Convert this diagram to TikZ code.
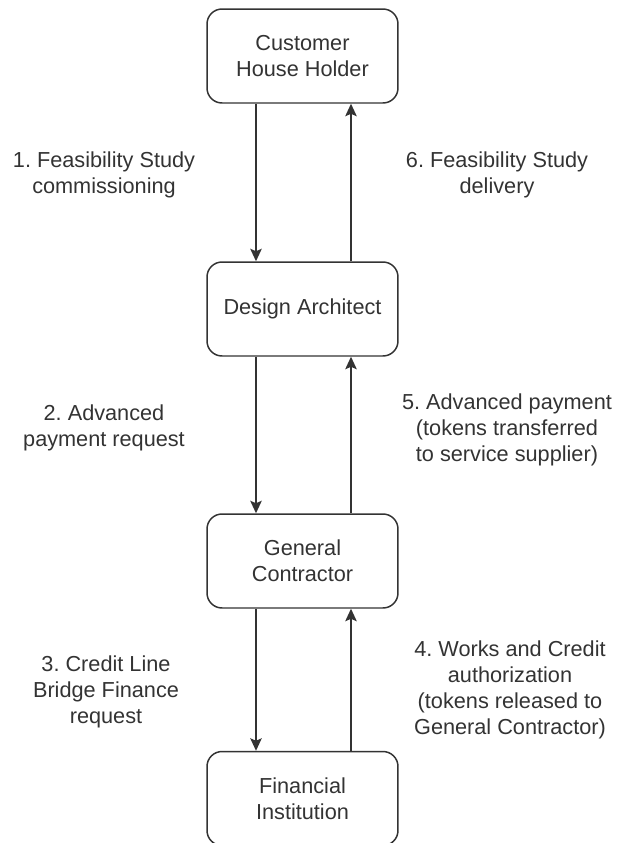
\documentclass[tikz,border=0pt]{standalone}
\usepackage{fontspec}
\setmainfont{Liberation Sans}
\usetikzlibrary{arrows.meta}
\frenchspacing
\definecolor{inkgray}{RGB}{51,51,51}
\tikzset{
  party/.style={draw=inkgray,line width=0.85pt,rounded corners=0.3cm,minimum width=3.82cm,minimum height=1.88cm,align=center,text=inkgray},
  steplabel/.style={align=center,text=inkgray},
  flow/.style={-{Stealth[length=0.25cm,width=0.23cm,inset=0.05cm]},line width=0.85pt,draw=inkgray}
}

\begin{document}
\begin{tikzpicture}[x=0.02cm,y=-0.02cm,font=\fontsize{12.35pt}{14.8pt}\selectfont]
            \useasboundingbox (0,0) rectangle (618,843);
            \coordinate (lft) at (256,0);
            \coordinate (rgt) at (351,0);
            \node[party] (cust) at (302.5,56) {Customer\\House Holder};
            \node[party] (arch) at (302.5,309) {Design Architect};
            \node[party] (gen) at (302.5,561) {General\\Contractor};
            \node[party] (fin) at (302.5,798.5) {Financial\\Institution};
            \draw[flow] (cust.south -| lft)--(arch.north -| lft);
            \draw[flow] (arch.south -| lft)--(gen.north -| lft);
            \draw[flow] (gen.south -| lft)--(fin.north -| lft);
            \draw[flow] (fin.north -| rgt)--(gen.south -| rgt);
            \draw[flow] (gen.north -| rgt)--(arch.south -| rgt);
            \draw[flow] (arch.north -| rgt)--(cust.south -| rgt);
            \node[steplabel] (s1) at (104,175) {1. Feasibility Study\\commissioning};
            \node[steplabel] (s2) at (104,428) {2. Advanced\\payment request};
            \node[steplabel] (s3) at (106,692) {3. Credit Line\\Bridge Finance\\request};
            \node[steplabel] (s4) at (510,690) {4. Works and Credit\\authorization\\(tokens released to\\General Contractor)};
            \node[steplabel] (s5) at (507,430) {5. Advanced payment\\(tokens transferred\\to service supplier)};
            \node[steplabel] (s6) at (497,175) {6. Feasibility Study\\delivery};
        \end{tikzpicture}
\end{document}
